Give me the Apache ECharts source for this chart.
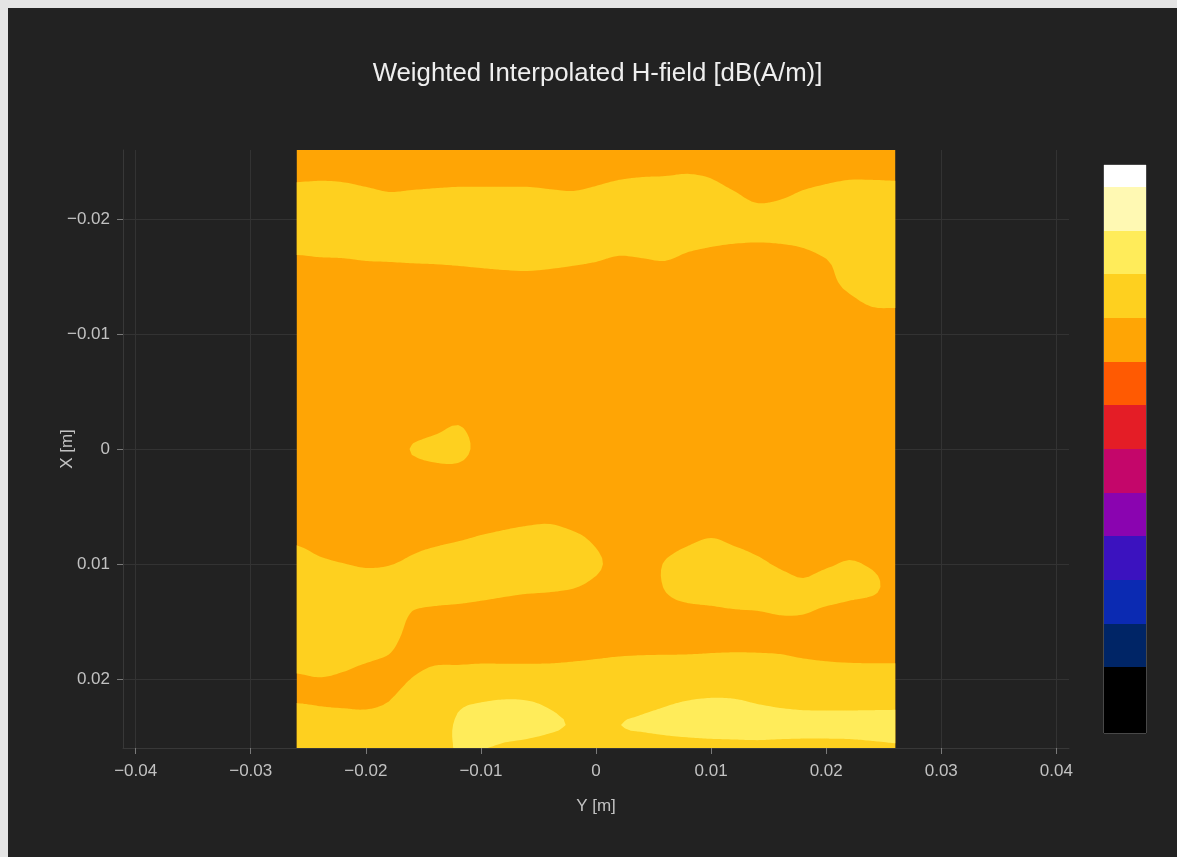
<!DOCTYPE html>
<html>
<head>
<meta charset="utf-8">
<script src="https://cdn.jsdelivr.net/npm/echarts@6/dist/echarts.min.js"></script>
<style>
html,body{margin:0;padding:0;background:#e4e4e4;overflow:hidden;}
#chart{position:absolute;left:8px;top:8px;width:1169px;height:849px;background:#222222;}
</style>
</head>
<body>
<div id="chart"></div>
<script>
// ---------------- DATA ----------------
// horizontal axis "Y [m]" sample positions
const yCoords = [-0.026,-0.024,-0.022,-0.020,-0.018,-0.016,-0.014,-0.012,-0.010,-0.008,-0.006,-0.004,-0.002,0,0.002,0.004,0.006,0.008,0.010,0.012,0.014,0.016,0.018,0.020,0.022,0.024,0.026];
// vertical axis "X [m]" sample positions
const xCoords = [-0.026,-0.024,-0.022,-0.020,-0.018,-0.016,-0.014,-0.012,-0.010,-0.008,-0.006,-0.004,-0.002,0,0.002,0.004,0.006,0.008,0.010,0.012,0.014,0.016,0.018,0.020,0.022,0.024,0.026];
// H-field [dB(A/m)], one row per X position, one column per Y position
const field = [
[20.5,20.5,20.5,20.5,20.5,20.5,20.5,20.5,20.5,20.5,20.5,20.5,20.5,20.5,20.5,20.5,20.5,20.5,20.5,20.5,20.5,20.5,20.5,20.5,20.5,20.5,20.5],
[20.8,20.83,20.8,20.7,20.6,20.63,20.67,20.7,20.7,20.7,20.7,20.65,20.61,20.72,20.85,20.91,20.93,20.98,20.88,20.61,20.5,20.5,20.63,20.76,20.85,20.85,20.83],
[21.3,21.33,21.3,21.2,21.09,21.13,21.17,21.2,21.2,21.2,21.2,21.15,21.11,21.22,21.35,21.41,21.43,21.48,21.38,21.11,20.83,20.91,21.13,21.26,21.35,21.35,21.33],
[21.5,21.5,21.5,21.5,21.5,21.5,21.5,21.5,21.5,21.5,21.5,21.5,21.5,21.5,21.5,21.5,21.5,21.5,21.5,21.5,21.33,21.41,21.5,21.5,21.5,21.5,21.5],
[21.28,21.33,21.35,21.41,21.43,21.46,21.48,21.5,21.5,21.5,21.5,21.5,21.5,21.43,21.3,21.35,21.41,21.22,21.11,21.04,21.01,21.04,21.13,21.35,21.5,21.5,21.5],
[20.78,20.83,20.85,20.91,20.93,20.96,20.98,21.02,21.07,21.11,21.13,21.09,21.02,20.93,20.8,20.85,20.91,20.72,20.61,20.54,20.5,20.54,20.63,20.89,21.39,21.5,21.5],
[20.5,20.5,20.5,20.5,20.5,20.5,20.5,20.52,20.57,20.61,20.63,20.59,20.52,20.5,20.5,20.5,20.5,20.5,20.5,20.5,20.5,20.5,20.5,20.76,21.1,21.41,21.43],
[20.5,20.5,20.5,20.5,20.5,20.5,20.5,20.5,20.5,20.5,20.5,20.5,20.5,20.5,20.5,20.5,20.5,20.5,20.5,20.5,20.5,20.5,20.5,20.5,20.67,20.91,20.93],
[20.5,20.5,20.5,20.5,20.5,20.5,20.5,20.5,20.5,20.5,20.5,20.5,20.5,20.5,20.5,20.5,20.5,20.5,20.5,20.5,20.5,20.5,20.5,20.5,20.5,20.5,20.5],
[20.5,20.5,20.5,20.5,20.5,20.5,20.5,20.5,20.5,20.5,20.5,20.5,20.5,20.5,20.5,20.5,20.5,20.5,20.5,20.5,20.5,20.5,20.5,20.5,20.5,20.5,20.5],
[20.5,20.5,20.5,20.5,20.5,20.5,20.5,20.5,20.5,20.5,20.5,20.5,20.5,20.5,20.5,20.5,20.5,20.5,20.5,20.5,20.5,20.5,20.5,20.5,20.5,20.5,20.5],
[20.5,20.5,20.5,20.5,20.5,20.5,20.5,20.5,20.5,20.5,20.5,20.5,20.5,20.5,20.5,20.5,20.5,20.5,20.5,20.5,20.5,20.5,20.5,20.5,20.5,20.5,20.5],
[20.5,20.5,20.5,20.5,20.5,20.57,20.8,21.02,20.67,20.5,20.5,20.5,20.5,20.5,20.5,20.5,20.5,20.5,20.5,20.5,20.5,20.5,20.5,20.5,20.5,20.5,20.5],
[20.5,20.5,20.5,20.5,20.5,21.05,21.24,21.26,20.76,20.5,20.5,20.5,20.5,20.5,20.5,20.5,20.5,20.5,20.5,20.5,20.5,20.5,20.5,20.5,20.5,20.5,20.5],
[20.5,20.5,20.5,20.5,20.5,20.63,20.78,20.8,20.6,20.5,20.5,20.5,20.5,20.5,20.5,20.5,20.5,20.5,20.5,20.5,20.5,20.5,20.5,20.5,20.5,20.5,20.5],
[20.5,20.5,20.5,20.5,20.5,20.5,20.5,20.5,20.5,20.5,20.5,20.5,20.5,20.5,20.5,20.5,20.5,20.5,20.5,20.5,20.5,20.5,20.5,20.5,20.5,20.5,20.5],
[20.5,20.5,20.5,20.5,20.5,20.5,20.5,20.5,20.63,20.74,20.83,20.87,20.72,20.57,20.5,20.5,20.5,20.5,20.57,20.5,20.5,20.5,20.5,20.5,20.5,20.5,20.5],
[20.91,20.7,20.56,20.5,20.54,20.74,20.87,20.99,21.13,21.24,21.33,21.37,21.22,20.9,20.5,20.5,20.65,20.89,21.07,20.89,20.72,20.6,20.5,20.5,20.63,20.57,20.5],
[21.37,21.15,21.02,20.91,20.96,21.17,21.37,21.49,21.5,21.5,21.5,21.5,21.5,21.15,20.67,20.61,21.05,21.39,21.5,21.39,21.16,20.89,20.67,20.89,21.07,20.9,20.57],
[21.5,21.5,21.5,21.41,21.46,21.5,21.41,21.37,21.3,21.22,21.15,21.11,21.04,20.8,20.5,20.59,21.04,21.35,21.41,21.48,21.5,21.37,21.17,21.39,21.28,21.2,20.61],
[21.5,21.5,21.5,21.5,21.43,21.02,20.91,20.87,20.8,20.72,20.65,20.63,20.54,20.5,20.5,20.5,20.74,20.85,20.91,20.98,21.02,21.11,21.09,20.91,20.78,20.6,20.5],
[21.5,21.5,21.5,21.5,21.26,20.8,20.5,20.5,20.5,20.5,20.5,20.5,20.5,20.5,20.5,20.52,20.52,20.54,20.57,20.59,20.59,20.65,20.59,20.5,20.5,20.5,20.5],
[21.41,21.46,21.33,21.15,20.98,20.74,20.8,20.82,20.85,20.85,20.85,20.85,20.88,20.93,20.99,21.02,21.03,21.04,21.07,21.09,21.08,21.04,20.95,20.89,20.86,20.85,20.85],
[20.91,20.97,20.89,20.71,20.65,21.02,21.28,21.32,21.35,21.35,21.35,21.35,21.38,21.43,21.5,21.5,21.5,21.5,21.5,21.5,21.5,21.5,21.45,21.39,21.36,21.35,21.35],
[20.98,20.93,20.89,20.85,21.01,21.5,21.48,21.85,21.99,22.07,22.04,21.87,21.61,21.5,21.55,21.76,21.92,22.03,22.09,22.07,21.96,21.87,21.8,21.78,21.78,21.79,21.8],
[21.48,21.43,21.39,21.35,21.43,21.5,21.63,22.1,22.46,22.39,22.3,22.15,21.91,21.5,21.98,22.11,22.2,22.26,22.3,22.31,22.33,22.3,22.28,22.28,22.28,22.29,22.3],
[21.5,21.5,21.5,21.5,21.5,21.5,21.76,22.04,22.03,21.9,21.8,21.65,21.5,21.5,21.55,21.61,21.7,21.76,21.8,21.82,21.83,21.8,21.78,21.78,21.8,21.87,21.93]
];
// contour level boundaries and the colour of each band (low -> high)
const levels = [13,14,15,16,17,18,19,20,21,22,23,24];
const levelColors = ['#000000','#002566','#0b2ab2','#3b12bf','#8a04b0','#c4066a','#e41d26','#ff5a02','#ffa505','#fed01f','#ffec5a','#fff9b3','#ffffff'];
const colorbarRange = [11.5, 24.5];
const xTickValues = [-0.04,-0.03,-0.02,-0.01,0,0.01,0.02,0.03,0.04];
const yTickValues = [-0.02,-0.01,0,0.01,0.02];
const titleText = 'Weighted Interpolated H-field [dB(A/m)]';
const xAxisName = 'Y [m]';
const yAxisName = 'X [m]';

// ---------------- CONTOUR GEOMETRY (smoothed like a contour plot) ----------------
const FONT = '"Liberation Sans", Arial, sans-serif';
const NY = xCoords.length, NX = yCoords.length, R = 4;
function binOf(z) { let k = 0; while (k < levels.length && z >= levels[k]) k++; return k; }
function cell(i, j) { i = Math.max(0, Math.min(NY - 1, i)); j = Math.max(0, Math.min(NX - 1, j)); return field[i][j]; }
function cr(p0, p1, p2, p3, t) {
  return 0.5 * (2 * p1 + (-p0 + p2) * t + (2 * p0 - 5 * p1 + 4 * p2 - p3) * t * t + (-p0 + 3 * p1 - 3 * p2 + p3) * t * t * t);
}
function split(n, len) { let i0 = Math.floor(n / R), t = (n % R) / R; if (i0 >= len - 1) { i0 = len - 2; t = 1; } return [i0, t]; }
const FYn = (NY - 1) * R + 1, FXn = (NX - 1) * R + 1;
const fX = [], fY = [], fZ = [];
for (let b = 0; b < FXn; b++) { const [j0, t] = split(b, NX); fX.push(yCoords[j0] + t * (yCoords[j0 + 1] - yCoords[j0])); }
for (let a = 0; a < FYn; a++) { const [i0, t] = split(a, NY); fY.push(xCoords[i0] + t * (xCoords[i0 + 1] - xCoords[i0])); }
let zmin = Infinity, zmax = -Infinity;
for (let a = 0; a < FYn; a++) {
  const [i0, ti] = split(a, NY);
  const row = [];
  for (let b = 0; b < FXn; b++) {
    const [j0, tj] = split(b, NX);
    const col = [];
    for (let r = i0 - 1; r <= i0 + 2; r++) col.push(cr(cell(r, j0 - 1), cell(r, j0), cell(r, j0 + 1), cell(r, j0 + 2), tj));
    const z = cr(col[0], col[1], col[2], col[3], ti);
    row.push(z); zmin = Math.min(zmin, z); zmax = Math.max(zmax, z);
  }
  fZ.push(row);
}
function clipAbove(poly, t) {
  const out = [];
  for (let k = 0; k < poly.length; k++) {
    const p = poly[k], q = poly[(k + 1) % poly.length];
    const pin = p[2] >= t, qin = q[2] >= t;
    if (pin) out.push(p);
    if (pin !== qin) {
      const f = (t - p[2]) / (q[2] - p[2]);
      out.push([p[0] + f * (q[0] - p[0]), p[1] + f * (q[1] - p[1]), t]);
    }
  }
  return out;
}
const kmin = binOf(zmin), kmax = binOf(zmax);
const bandData = [];
for (let k = kmin; k <= kmax; k++) bandData.push([0, 0, k]);

function renderBand(params, api) {
  const k = api.value(2);
  const t = k === kmin ? -Infinity : levels[k - 1];
  const P = (x, y) => { const c = api.coord([x, y]); return c[0].toFixed(2) + ' ' + c[1].toFixed(2); };
  let d = '';
  for (let a = 0; a < FYn - 1; a++) {
    let runStart = -1;
    for (let b = 0; b <= FXn - 1; b++) {
      let full = false, empty = true;
      if (b < FXn - 1) {
        const z1 = fZ[a][b], z2 = fZ[a][b + 1], z3 = fZ[a + 1][b + 1], z4 = fZ[a + 1][b];
        full = z1 >= t && z2 >= t && z3 >= t && z4 >= t;
        empty = z1 < t && z2 < t && z3 < t && z4 < t;
      }
      if (full) { if (runStart < 0) runStart = b; continue; }
      if (runStart >= 0) {
        d += 'M' + P(fX[runStart], fY[a]) + 'L' + P(fX[b], fY[a]) + 'L' + P(fX[b], fY[a + 1]) + 'L' + P(fX[runStart], fY[a + 1]) + 'Z';
        runStart = -1;
      }
      if (b >= FXn - 1 || empty) continue;
      const A = [fX[b], fY[a], fZ[a][b]], B = [fX[b + 1], fY[a], fZ[a][b + 1]];
      const C = [fX[b + 1], fY[a + 1], fZ[a + 1][b + 1]], D = [fX[b], fY[a + 1], fZ[a + 1][b]];
      const M = [(A[0] + B[0]) / 2, (A[1] + D[1]) / 2, (A[2] + B[2] + C[2] + D[2]) / 4];
      for (const tri of [[A, B, M], [B, C, M], [C, D, M], [D, A, M]]) {
        const poly = clipAbove(tri, t);
        if (poly.length < 3) continue;
        for (let n = 0; n < poly.length; n++) d += (n ? 'L' : 'M') + P(poly[n][0], poly[n][1]);
        d += 'Z';
      }
    }
  }
  return { type: 'path', shape: { pathData: d }, style: { fill: levelColors[k], stroke: null } };
}

// colour bar bins
const cbData = levelColors.map((col, k) => {
  const lo = k === 0 ? colorbarRange[0] : levels[k - 1];
  const hi = k === levelColors.length - 1 ? colorbarRange[1] : levels[k];
  return [0.5, (lo + hi) / 2, lo, hi, k];
});
function renderBin(params, api) {
  const p1 = api.coord([0, api.value(3)]);
  const p2 = api.coord([1, api.value(2)]);
  const y1 = Math.round(p1[1]), y2 = Math.round(p2[1]);
  return { type: 'rect', shape: { x: p1[0], y: y1, width: p2[0] - p1[0], height: y2 - y1 },
           style: { fill: levelColors[api.value(4)], stroke: null } };
}

function fmt(v) {
  if (Math.abs(v) < 1e-9) return '0';
  return (v < 0 ? '\u2212' : '') + Math.abs(v).toFixed(2);
}

const labelColor = '#c2c2c2';
const chart = echarts.init(document.getElementById('chart'));
chart.setOption({
  animation: false,
  backgroundColor: '#222222',
  graphic: [{
    type: 'text', x: 589.5, y: 66, silent: true,
    style: { text: titleText, fill: '#efefef', fontSize: 25.8, fontFamily: FONT, align: 'center', verticalAlign: 'middle' }
  }],
  grid: [
    { left: 115, top: 142, width: 946, height: 598, show: false },
    { left: 1096, top: 157, width: 42, height: 568, show: true, borderColor: '#6e6e6e', borderWidth: 1, backgroundColor: 'transparent' }
  ],
  xAxis: [{
    gridIndex: 0, type: 'value', min: -0.0411, max: 0.0411, position: 'bottom',
    name: xAxisName, nameLocation: 'middle', nameGap: 50, nameMoveOverlap: false,
    nameTextStyle: { color: labelColor, fontSize: 17, fontFamily: FONT },
    axisLine: { show: true, onZero: false, lineStyle: { color: '#383838', width: 1 } },
    axisTick: { show: true, customValues: xTickValues, length: 6, lineStyle: { color: '#7a7a7a' } },
    axisLabel: { customValues: xTickValues, color: labelColor, fontSize: 17, fontFamily: FONT, margin: 15, formatter: fmt },
    splitLine: { show: true, lineStyle: { color: '#333333', width: 1 } }
  }, {
    gridIndex: 1, type: 'value', min: 0, max: 1, show: false
  }],
  yAxis: [{
    gridIndex: 0, type: 'value', min: -0.026, max: 0.026, inverse: true, position: 'left',
    name: yAxisName, nameLocation: 'middle', nameGap: 47, nameRotate: 90, nameMoveOverlap: false,
    nameTextStyle: { color: labelColor, fontSize: 17, fontFamily: FONT },
    axisLine: { show: true, onZero: false, lineStyle: { color: '#383838', width: 1 } },
    axisTick: { show: true, customValues: yTickValues, length: 6, lineStyle: { color: '#7a7a7a' } },
    axisLabel: { customValues: yTickValues, color: labelColor, fontSize: 17, fontFamily: FONT, margin: 13, formatter: fmt },
    splitLine: { show: true, lineStyle: { color: '#333333', width: 1 } }
  }, {
    gridIndex: 1, type: 'value', min: colorbarRange[0], max: colorbarRange[1], show: false
  }],
  series: [{
    type: 'custom', name: 'H-field', xAxisIndex: 0, yAxisIndex: 0, silent: true,
    renderItem: renderBand, data: bandData, clip: true
  }, {
    type: 'custom', name: 'colorbar', xAxisIndex: 1, yAxisIndex: 1, silent: true,
    renderItem: renderBin, data: cbData
  }]
});
</script>
</body>
</html>
